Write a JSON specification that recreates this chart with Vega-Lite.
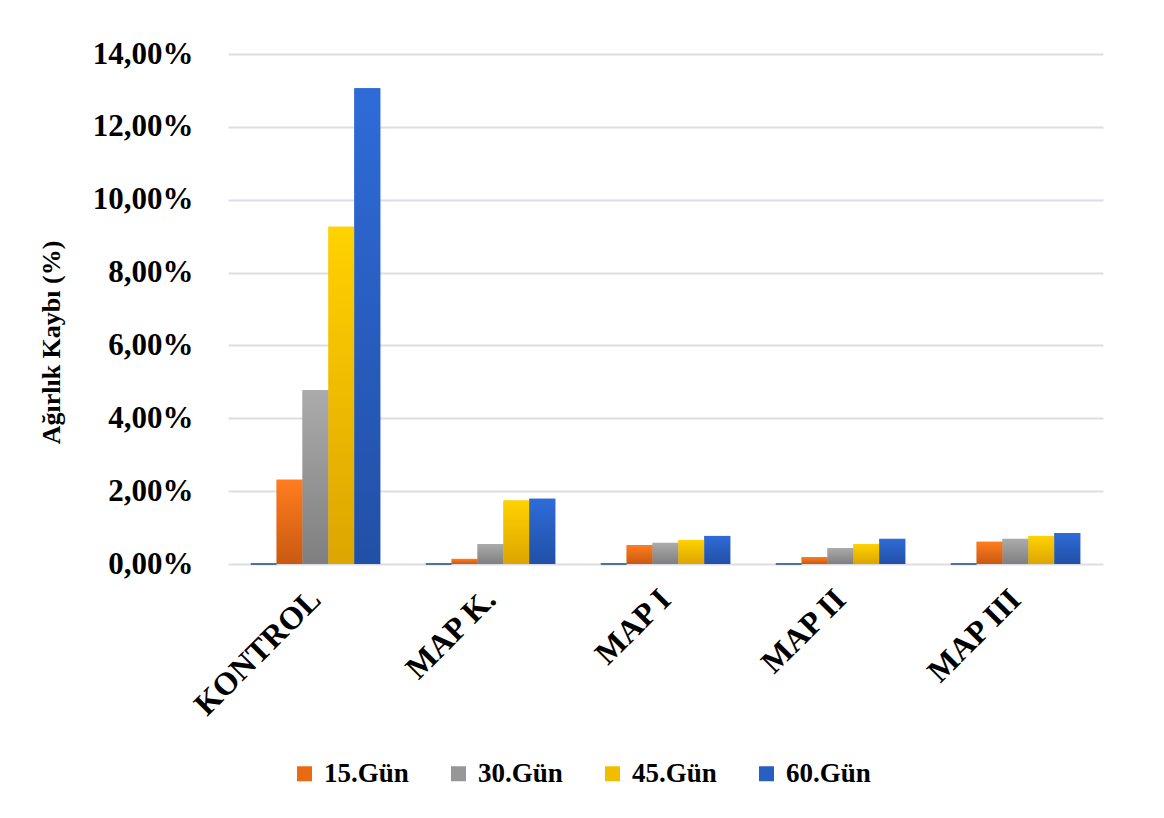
{
  "$schema": "https://vega.github.io/schema/vega-lite/v6.json",
  "autosize": {"type": "none"},
  "width": 875,
  "height": 510,
  "padding": {"left": 228, "top": 54, "right": 61, "bottom": 254},
  "background": "white",
  "data": {
    "values": [
      {"grup": "KONTROL", "gun": "0.Gün", "kayip": 0},
      {"grup": "KONTROL", "gun": "15.Gün", "kayip": 0.0231},
      {"grup": "KONTROL", "gun": "30.Gün", "kayip": 0.0477},
      {"grup": "KONTROL", "gun": "45.Gün", "kayip": 0.0926},
      {"grup": "KONTROL", "gun": "60.Gün", "kayip": 0.1306},
      {"grup": "MAP K.", "gun": "0.Gün", "kayip": 0},
      {"grup": "MAP K.", "gun": "15.Gün", "kayip": 0.0014},
      {"grup": "MAP K.", "gun": "30.Gün", "kayip": 0.0055},
      {"grup": "MAP K.", "gun": "45.Gün", "kayip": 0.0174},
      {"grup": "MAP K.", "gun": "60.Gün", "kayip": 0.0179},
      {"grup": "MAP I", "gun": "0.Gün", "kayip": 0},
      {"grup": "MAP I", "gun": "15.Gün", "kayip": 0.0052},
      {"grup": "MAP I", "gun": "30.Gün", "kayip": 0.0058},
      {"grup": "MAP I", "gun": "45.Gün", "kayip": 0.0066},
      {"grup": "MAP I", "gun": "60.Gün", "kayip": 0.0077},
      {"grup": "MAP II", "gun": "0.Gün", "kayip": 0},
      {"grup": "MAP II", "gun": "15.Gün", "kayip": 0.0019},
      {"grup": "MAP II", "gun": "30.Gün", "kayip": 0.0044},
      {"grup": "MAP II", "gun": "45.Gün", "kayip": 0.0055},
      {"grup": "MAP II", "gun": "60.Gün", "kayip": 0.0069},
      {"grup": "MAP III", "gun": "0.Gün", "kayip": 0},
      {"grup": "MAP III", "gun": "15.Gün", "kayip": 0.0061},
      {"grup": "MAP III", "gun": "30.Gün", "kayip": 0.0069},
      {"grup": "MAP III", "gun": "45.Gün", "kayip": 0.0077},
      {"grup": "MAP III", "gun": "60.Gün", "kayip": 0.0085}
    ]
  },
  "encoding": {
    "x": {
      "field": "grup",
      "type": "nominal",
      "sort": ["KONTROL", "MAP K.", "MAP I", "MAP II", "MAP III"],
      "scale": {"paddingInner": 0.26, "paddingOuter": 0.13},
      "axis": {
        "title": null,
        "labelAngle": -45,
        "labelAlign": "right",
        "labelBaseline": "middle",
        "labelFont": "Liberation Serif",
        "labelFontWeight": "bold",
        "labelFontSize": 32,
        "labelColor": "#000000",
        "labelPadding": 30,
        "ticks": false,
        "domain": false,
        "grid": false
      }
    },
    "xOffset": {
      "field": "gun",
      "type": "nominal",
      "sort": ["0.Gün", "15.Gün", "30.Gün", "45.Gün", "60.Gün"],
      "scale": {"paddingInner": 0, "paddingOuter": 0}
    },
    "y": {
      "field": "kayip",
      "type": "quantitative",
      "scale": {"domain": [0, 0.14], "nice": false},
      "axis": {
        "title": "Ağırlık Kaybı (%)",
        "titleFont": "Liberation Serif",
        "titleFontWeight": "bold",
        "titleFontSize": 26,
        "titleColor": "#000000",
        "titlePadding": 28,
        "titleY": 288,
        "values": [0, 0.02, 0.04, 0.06, 0.08, 0.1, 0.12, 0.14],
        "labelExpr": "replace(format(datum.value, '.2%'), '.', ',')",
        "labelFont": "Liberation Serif",
        "labelFontWeight": "bold",
        "labelFontSize": 31,
        "labelColor": "#000000",
        "labelPadding": 35,
        "ticks": false,
        "domain": false,
        "grid": true,
        "gridColor": "#dcdde6",
        "gridWidth": 2
      }
    }
  },
  "layer": [
    {
      "mark": {"type": "bar", "strokeWidth": 1.5},
      "encoding": {
        "color": {
          "field": "gun",
          "type": "nominal",
          "scale": {
            "domain": ["0.Gün", "15.Gün", "30.Gün", "45.Gün", "60.Gün"],
            "range": ["#1f4e79", "#ea6a14", "#979797", "#f0bd00", "#2a5fc2"]
          },
          "legend": {
            "title": null,
            "values": ["15.Gün", "30.Gün", "45.Gün", "60.Gün"],
            "orient": "none",
            "direction": "horizontal",
            "legendX": 63,
            "legendY": 706,
            "symbolType": "square",
            "symbolSize": 225,
            "symbolStrokeWidth": 0,
            "labelFont": "Liberation Serif",
            "labelFontWeight": "bold",
            "labelFontSize": 27,
            "labelColor": "#000000",
            "labelOffset": 6,
            "columnPadding": 36
          }
        }
      }
    },
    {
      "mark": {"type": "bar", "strokeWidth": 1.5, "stroke": "#1f4e79"},
      "encoding": {
        "fill": {
          "condition": [
            {"test": "datum.gun === '15.Gün'", "value": {"gradient": "linear", "x1": 0, "y1": 0, "x2": 0, "y2": 1, "stops": [{"offset": 0, "color": "#ff7d1e"}, {"offset": 1, "color": "#c95912"}]}},
            {"test": "datum.gun === '30.Gün'", "value": {"gradient": "linear", "x1": 0, "y1": 0, "x2": 0, "y2": 1, "stops": [{"offset": 0, "color": "#ababab"}, {"offset": 1, "color": "#7f7f7f"}]}},
            {"test": "datum.gun === '45.Gün'", "value": {"gradient": "linear", "x1": 0, "y1": 0, "x2": 0, "y2": 1, "stops": [{"offset": 0, "color": "#ffd200"}, {"offset": 1, "color": "#dda500"}]}},
            {"test": "datum.gun === '60.Gün'", "value": {"gradient": "linear", "x1": 0, "y1": 0, "x2": 0, "y2": 1, "stops": [{"offset": 0, "color": "#2f6bd8"}, {"offset": 1, "color": "#2150a6"}]}}
          ],
          "value": "#1f4e79"
        },
        "strokeOpacity": {
          "condition": {"test": "datum.gun === '0.Gün'", "value": 1},
          "value": 0
        }
      }
    }
  ],
  "config": {
    "view": {"stroke": null}
  }
}
